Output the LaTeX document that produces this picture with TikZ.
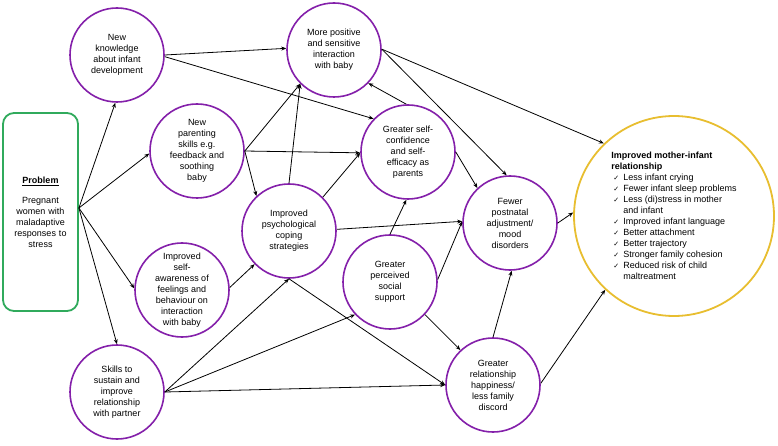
\documentclass[tikz,border=0pt]{standalone}
\usepackage{fontspec}
\setmainfont{Liberation Sans}
\newfontfamily\chkfont{DejaVu Sans}
\usetikzlibrary{arrows.meta}
\definecolor{purp}{RGB}{132,32,170}
\definecolor{grn}{RGB}{48,170,92}
\definecolor{gold}{RGB}{232,190,48}
\newcommand{\chk}{\hspace*{2pt}\makebox[10pt][l]{\chkfont\fontsize{7}{11}\selectfont ✓}}
\newcommand{\ind}{\hspace*{12pt}}
\begin{document}
\begin{tikzpicture}[x=1pt,y=-1pt, font=\fontsize{9}{11}\selectfont,
 bub/.style={circle, draw=purp, line width=1.6pt, minimum size=94pt, inner sep=0pt, align=center, fill=white},
 arr/.style={-{Stealth[length=5pt,width=4pt]}, line width=0.8pt}]
\useasboundingbox (0,0) rectangle (778,446);

\node[draw=grn, line width=1.8pt, rounded corners=11pt, minimum width=75pt, minimum height=198pt, inner sep=0pt, align=center, text width=72pt] (prob) at (40.5,212)
 {\underline{\textbf{Problem}}\\[9pt]Pregnant\\women with\\maladaptive\\responses to\\stress};

\node[bub] (nk) at (117,55) {New\\knowledge\\about infant\\development};
\node[bub] (mp) at (334,50) {More positive\\and sensitive\\interaction\\with baby};
\node[bub] (par) at (197,151) {New\\parenting\\skills e.g.\\feedback and\\soothing\\baby};
\node[bub] (psy) at (289,231) {Improved\\psychological\\coping\\strategies};
\node[bub] (sc) at (408,152) {Greater self-\\confidence\\and self-\\efficacy as\\parents};
\node[bub] (fp) at (510,223) {Fewer\\postnatal\\adjustment/\\mood\\disorders};
\node[bub] (ps) at (390,282) {Greater\\perceived\\social\\support};
\node[bub] (rel) at (493,385) {Greater\\relationship\\happiness/\\less family\\discord};
\node[bub] (sa) at (182,290) {Improved\\self-\\awareness of\\feelings and\\behaviour on\\interaction\\with baby};
\node[bub] (sk) at (117,392) {Skills to\\sustain and\\improve\\relationship\\with partner};

\node[circle, draw=gold, line width=1.8pt, minimum size=200pt, inner sep=0pt, align=left, fill=white] (mi) at (674,216)
 {\textbf{Improved mother-infant}\\
  \textbf{relationship}\\
  \chk Less infant crying\\
  \chk Fewer infant sleep problems\\
  \chk Less (di)stress in mother\\
  \ind and infant\\
  \chk Improved infant language\\
  \chk Better attachment\\
  \chk Better trajectory\\
  \chk Stronger family cohesion\\
  \chk Reduced risk of child\\
  \ind maltreatment};

\coordinate (src) at ([yshift=4pt]prob.east);

\draw[arr] (src) -- (nk.268);
\draw[arr] (src) -- (par.183);
\draw[arr] (src) -- (sa.178);
\draw[arr] (src) -- (sk.90);

\draw[arr] (nk.0) -- (mp.178);
\draw[arr] (nk.358) -- (sc.136);

\draw[arr] (par.0) -- (mp.225);
\draw[arr] (par.0) -- (sc.181);
\draw[arr] (par.0) -- (psy.133);

\draw[arr] (psy.90) -- (mp.225);
\draw[arr] (psy.45) -- (sc.181);
\draw[arr] (psy.2) -- (fp.178);
\draw[arr] (psy.270) -- (rel.180);

\draw[arr] (sa.3) -- (psy.224);

\draw[arr] (sk.0) -- (psy.270);
\draw[arr] (sk.0) -- (ps.223);
\draw[arr] (sk.0) -- (rel.180);

\draw[arr] (ps.90) -- (sc.268);
\draw[arr] (ps.3) -- (fp.178);
\draw[arr] (ps.317) -- (rel.133);

\draw[arr] (rel.90) -- (fp.272);
\draw[arr] (rel.2) -- (mi.227);

\draw[arr] (fp.0) -- (mi.178);

\draw[arr] (mp.1) -- (mi.134);
\draw[arr] (mp.1) -- (fp.94);

\draw[arr] (sc.0) -- (fp.133);
\draw[arr] (sc.92) -- (mp.316);
\end{tikzpicture}
\end{document}
